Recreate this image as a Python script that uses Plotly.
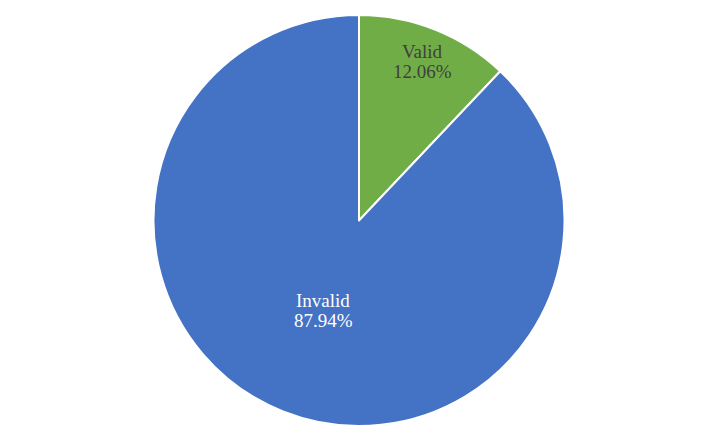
import math
import plotly.graph_objects as go

labels = ['Valid', 'Invalid']
values = [12.06, 87.94]
colors = ['#70AD47', '#4472C4']
text_colors = ['#404040', 'white']
label_radius = [0.835, 0.47]  # fraction of pie radius where each label sits

W, H = 706, 430
margin = dict(l=0, r=4, t=7, b=12)
plot_w = W - margin['l'] - margin['r']
plot_h = H - margin['t'] - margin['b']
R = min(plot_w, plot_h) / 2

fig = go.Figure()

fig.add_trace(go.Pie(labels=labels, values=values, sort=False, direction='clockwise',
                     rotation=0, marker=dict(colors=colors, line=dict(color='white', width=2)),
                     textinfo='none', hoverinfo='label+percent', showlegend=False))

# data labels placed at each slice's mid angle (clockwise from 12 o'clock)
annotations = []
total = sum(values)
start = 0
for lab, val, col, rf in zip(labels, values, text_colors, label_radius):
    mid = (start + val / 2) / total * 2 * math.pi
    start += val
    px = 0.5 + rf * R * math.sin(mid) / plot_w
    py = 0.5 + rf * R * math.cos(mid) / plot_h
    for txt, shift in [(lab, 10), ('%.2f%%' % (val / total * 100), -10)]:
        annotations.append(dict(xref='paper', yref='paper', x=px, y=py, yshift=shift,
                                xanchor='center', yanchor='middle', text=txt, showarrow=False,
                                font=dict(family='Liberation Serif', size=19, color=col)))

fig.update_layout(width=W, height=H, margin=margin, annotations=annotations,
                  paper_bgcolor='white', plot_bgcolor='white')

fig.write_html("out.html")
